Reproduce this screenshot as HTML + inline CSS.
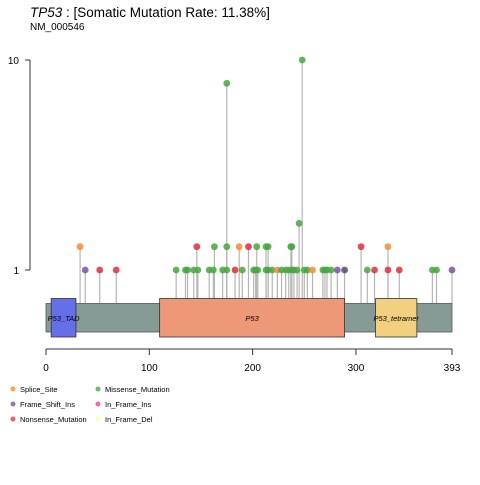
<!DOCTYPE html>
<html><head><meta charset="utf-8"><style>
body{margin:0;background:#fff;font-family:"Liberation Sans",Arial,sans-serif}
svg text{font-family:"Liberation Sans",Arial,sans-serif}
</style></head><body>
<svg id="chart" width="480" height="480" viewBox="0 0 480 480">
<text x="30" y="17" font-size="13.5"><tspan font-style="italic">TP53</tspan> : [Somatic Mutation Rate: 11.38%]</text>
<text x="30" y="30" font-size="10">NM_000546</text>
<g id="yaxis"></g>
<g id="stems"></g>
<g id="protein"></g>
<g id="dots"></g>
<g id="xaxis"></g>
<g id="legend"></g>
</svg>
<script>
const positions=[33,146,163,175,187,196,204,213,215,237,238,305,331,245,175,248,
38,52,68,126,135,137,143,147,158,162,171,175,183,190,201,203,205,213,215,219,224,228,232,235,238,240,243,250,253,258,268,270,272,276,282,289,311,318,331,342,374,378,393];
const counts=[2,2,2,2,2,2,2,2,2,2,2,2,2,3,9,10,
1,1,1,1,1,1,1,1,1,1,1,1,1,1,1,1,1,1,1,1,1,1,1,1,1,1,1,1,1,1,1,1,1,1,1,1,1,1,1,1,1,1,1];
const classes=["S","N","M","M","S","N","M","M","M","M","M","N","S","M","M","M",
"F","N","N","M","M","M","M","M","M","M","M","M","N","M","M","M","M","M","M","M","S","M","M","M","M","M","M","M","M","S","M","M","M","M","F","D","M","N","N","N","M","M","F"];
const domainNames=["P53_TAD","P53","P53_tetramer"];
const domainStart=[5,110,319];
const domainEnd=[29,289,359];
const protLen=393;
const xTicks=[0,100,200,300,393];
const yTicks=[1,10];
const legendLabels=["Splice_Site","Frame_Shift_Ins","Nonsense_Mutation","Missense_Mutation","In_Frame_Ins","In_Frame_Del"];
const legendColors=["#FF7F00","#6A3D9A","#E31A1C","#33A02C","#E7298A","#FFFF99"];
const colorMap={S:"#FB8A2F",F:"#7E4FA8",N:"#E52C3C",M:"#45A83C",D:"#4B4B7A"};
const ns="http://www.w3.org/2000/svg";
const X=v=>46+v*(452-46)/protLen;
const Y=v=>270-(v-1)*(210/9);
function mk(t,a,p){const e=document.createElementNS(ns,t);for(const k in a)e.setAttribute(k,a[k]);p.appendChild(e);return e;}
const ya=document.getElementById('yaxis');
mk('line',{x1:30,x2:30,y1:Y(10),y2:Y(1),stroke:'#333','stroke-width':1},ya);
yTicks.forEach(t=>{mk('line',{x1:25,x2:30,y1:Y(t),y2:Y(t),stroke:'#333'},ya);
const tx=mk('text',{x:19,y:Y(t)+4,'font-size':10,'text-anchor':'end'},ya);tx.textContent=t;

});
const st=document.getElementById('stems'),dg=document.getElementById('dots');
positions.forEach((p,i)=>{
 const l=mk('line',{x1:X(p),x2:X(p),y1:303,y2:Y(counts[i]),stroke:'#b5b5b5','stroke-width':1.2},st);
 
 
 const c=mk('circle',{cx:X(p),cy:Y(counts[i]),r:3.4,fill:colorMap[classes[i]],'fill-opacity':0.85},dg);
 
 
});
const pr=document.getElementById('protein');
const bb=mk('rect',{x:X(0),y:303.5,width:X(protLen)-X(0),height:28.5,fill:'#869A96',stroke:'#555','stroke-width':0.8},pr);


const dcol=["#6570E8","#EE9878","#F3CF80"];
domainNames.forEach((n,i)=>{
 const r=mk('rect',{x:X(domainStart[i]),y:298.5,width:X(domainEnd[i])-X(domainStart[i]),height:38.5,fill:dcol[i],stroke:'#333','stroke-width':0.8},pr);
 
 
 const t=mk('text',{x:(X(domainStart[i])+X(domainEnd[i]))/2,y:321,'font-size':7.5,'font-style':'italic','text-anchor':'middle'},pr);
 t.textContent=n;
 
 
});
const xa=document.getElementById('xaxis');
mk('line',{x1:X(0),x2:X(protLen),y1:349,y2:349,stroke:'#333'},xa);
xTicks.forEach(t=>{mk('line',{x1:X(t),x2:X(t),y1:349,y2:355,stroke:'#333'},xa);
 const tx=mk('text',{x:X(t),y:371,'font-size':10,'text-anchor':'middle'},xa);tx.textContent=t;
 
 });
const lg=document.getElementById('legend');
legendLabels.forEach((n,i)=>{
 const col=Math.floor(i/3),row=i%3;
 const cx=13+col*85,cy=389+row*15;
 mk('circle',{cx:cx,cy:cy,r:2.5,fill:legendColors[i],'fill-opacity':0.7},lg);
 const t=mk('text',{x:cx+7,y:cy+3,'font-size':7.5},lg);t.textContent=n;
 
 
});
</script>
</body></html>
